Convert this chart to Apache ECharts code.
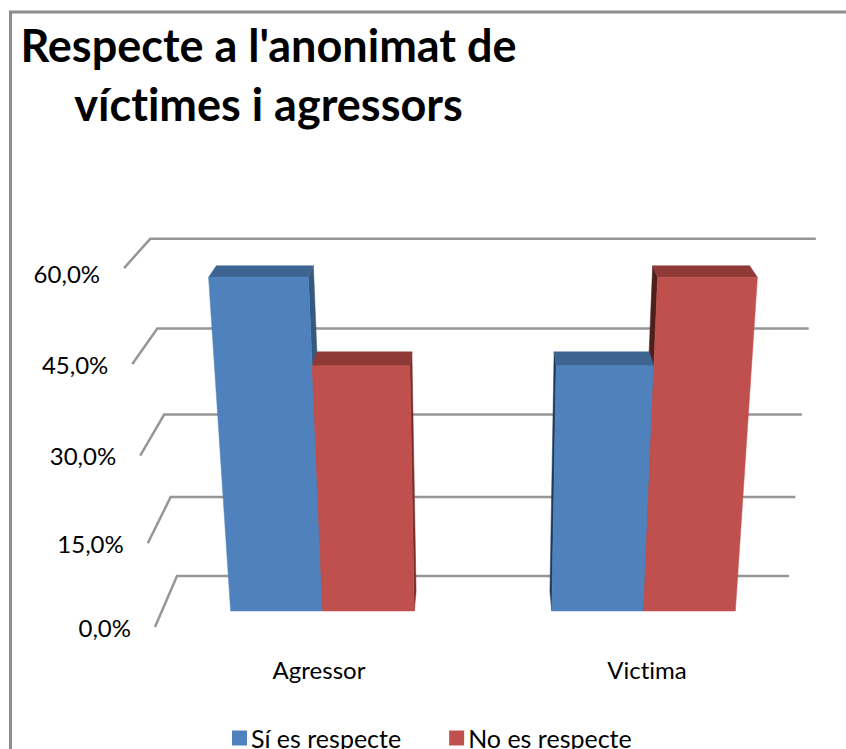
<!DOCTYPE html>
<html>
<head>
<meta charset="utf-8">
<title>Respecte a l'anonimat</title>
<script src="https://cdn.jsdelivr.net/npm/echarts@6/dist/echarts.min.js"></script>
<style>
  html, body { margin: 0; padding: 0; background: #fff; }
  #chart { width: 846px; height: 749px; }
  #chart text { font-variant-ligatures: none; }
</style>
</head>
<body>
<div id="chart"></div>
<script>
// dades
const categories = ['Agressor', 'Victima'];
const siValues = [57.1, 42.9];
const noValues = [42.9, 57.1];
const yTicks = [0, 15, 30, 45, 60];
const yTickLabels = ['0,0%', '15,0%', '30,0%', '45,0%', '60,0%'];

const FONT = 'Lato';

// pla frontal del grafic (coordenades planes de l'eix)
const gridLeft = 155, gridTop = 267, gridW = 656, gridH = 360;
const cx = gridLeft + gridW / 2;
const yMax = 60;

// perspectiva: X -1..1, v 0..1, d 0 (davant) .. 1 (paret del fons)
function project(X, v, d) {
  const w = 1 - 0.0862 * v + 0.0718 * d;
  return [cx + (gridW / 2) * X / w, (627 - 382 * v - 9.6 * d) / w];
}

function planeV(py) {
  return (gridTop + gridH - py) / gridH;
}

// grid lines + tick labels
function renderWall(params, api) {
  const idx = api.value(0);
  const v = planeV(api.coord([0, yTicks[idx]])[1]);
  const a = project(-1, v, 0), b = project(-1, v, 1), c = project(1, v, 1);
  return {
    type: 'group',
    children: [
      {
        type: 'polyline',
        shape: { points: [a, b, c] },
        style: { stroke: '#969696', lineWidth: 2.5, fill: null }
      },
      {
        type: 'text',
        style: {
          x: a[0] - 24,
          y: a[1] + (idx === 4 ? 5 : 0),
          text: yTickLabels[idx],
          fill: '#000',
          font: '24px ' + FONT,
          align: 'right',
          verticalAlign: 'middle'
        }
      }
    ]
  };
}

const depthFront = 0.3, depthBack = 0.68, barFrac = 0.286;

function barRenderer(dir, front, top, sideOut, sideIn) {
  return function (params, api) {
    const p = api.coord([api.value(0), api.value(1)]);
    const band = api.size([1, 0])[0];
    const v = planeV(p[1]);
    const xc = (p[0] - cx) / (gridW / 2);
    const w = barFrac * band / (gridW / 2);
    const x0 = dir < 0 ? xc - w : xc;
    const x1 = dir < 0 ? xc : xc + w;
    const edge = xc < 0 ? x1 : x0;   // la cara lateral que es veu
    const quad = (pts, fill, z2) => ({
      type: 'polygon',
      z2: z2,
      shape: { points: pts },
      style: { fill: fill, stroke: fill, lineWidth: 0.5 }
    });
    return {
      type: 'group',
      children: [
        quad([project(edge, v, depthFront), project(edge, v, depthBack),
              project(edge, 0, depthBack), project(edge, 0, depthFront)],
             xc < 0 ? sideOut : sideIn, 1),
        quad([project(x0, v, depthFront), project(x1, v, depthFront),
              project(x1, v, depthBack), project(x0, v, depthBack)], top, 2),
        quad([project(x0, v, depthFront), project(x1, v, depthFront),
              project(x1, 0, depthFront), project(x0, 0, depthFront)], front, 3)
      ]
    };
  };
}

const chart = echarts.init(document.getElementById('chart'), null, { renderer: 'svg' });
chart.setOption({
  animation: false,
  backgroundColor: '#fff',
  title: {
    text: "Respecte a l'anonimat de\nvíctimes i agressors",
    left: 263.5,
    top: 10,
    textAlign: 'center',
    textStyle: { fontFamily: FONT, fontWeight: 'bold', fontSize: 45, lineHeight: 59, color: '#000' }
  },
  graphic: [{
    type: 'polyline',
    shape: { points: [[10.5, 749], [10.5, 12], [846, 12]] },
    style: { stroke: '#8c8c8c', lineWidth: 3, fill: null }
  }],
  legend: {
    data: ['Sí es respecte', 'No es respecte'],
    left: 227,
    top: 720,
    icon: 'rect',
    itemWidth: 15,
    itemHeight: 15,
    itemGap: 48,
    textStyle: { fontFamily: FONT, fontSize: 25, lineHeight: 22, color: '#000', padding: [0, 0, 4, -1] }
  },
  grid: { left: gridLeft, top: gridTop, width: gridW, height: gridH },
  xAxis: {
    type: 'category',
    data: categories,
    axisLine: { show: false },
    axisTick: { show: false },
    splitLine: { show: false },
    axisLabel: { margin: 30, color: '#000', fontFamily: FONT, fontSize: 24 }
  },
  yAxis: {
    type: 'value',
    min: 0,
    max: yMax,
    interval: 15,
    axisLine: { show: false },
    axisTick: { show: false },
    splitLine: { show: false },
    axisLabel: { show: false }
  },
  series: [
    {
      type: 'custom',
      name: 'wall',
      z: 1,
      silent: true,
      renderItem: renderWall,
      encode: { x: [], y: 1 },
      data: yTicks.map((t, i) => [i, t])
    },
    {
      type: 'custom',
      name: 'Sí es respecte',
      z: 2,
      itemStyle: { color: '#4F81BD' },
      renderItem: barRenderer(-1, '#4F81BD', '#3E6491', '#35587F', '#1F3A5C'),
      encode: { x: 0, y: 1 },
      data: siValues.map((v, i) => [i, v])
    },
    {
      type: 'custom',
      name: 'No es respecte',
      z: 2,
      itemStyle: { color: '#C0504D' },
      renderItem: barRenderer(1, '#C0504D', '#8F3A37', '#7A2E2B', '#4F1F1C'),
      encode: { x: 0, y: 1 },
      data: noValues.map((v, i) => [i, v])
    }
  ]
});
</script>
</body>
</html>
